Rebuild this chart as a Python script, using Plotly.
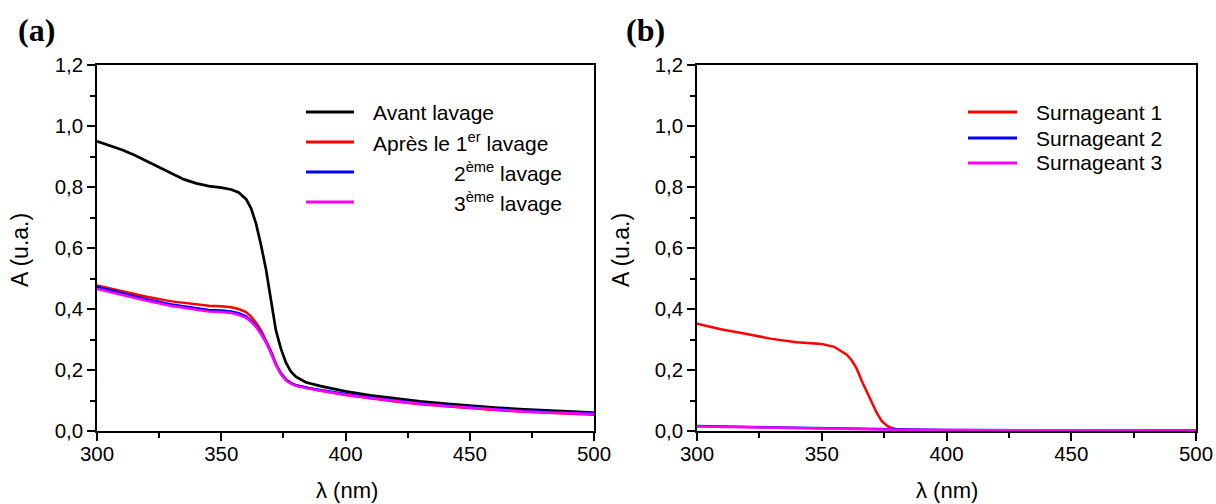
import plotly.graph_objects as go

# ---------------- data ----------------
lam_avant = [300, 305, 310, 315, 320, 325, 330, 335, 340, 345, 350, 354, 357, 360, 362, 364, 366, 368,
             370, 372, 374, 376, 378, 380, 384, 390, 400, 410, 420, 430, 440, 450, 460, 470, 480, 490, 500]
avant = [0.950, 0.937, 0.922, 0.905, 0.885, 0.865, 0.843, 0.825, 0.812, 0.803, 0.798, 0.792, 0.782, 0.760,
         0.730, 0.680, 0.610, 0.530, 0.430, 0.330, 0.270, 0.225, 0.195, 0.178, 0.160, 0.147, 0.130, 0.117,
         0.107, 0.097, 0.090, 0.083, 0.077, 0.072, 0.068, 0.064, 0.060]

lam_lav = [300, 310, 320, 330, 340, 345, 350, 354, 357, 360, 362, 364, 366, 368, 370, 372, 374, 376,
           378, 380, 385, 390, 400, 410, 420, 430, 440, 450, 460, 470, 480, 490, 500]
lavage1 = [0.477, 0.458, 0.440, 0.425, 0.415, 0.411, 0.409, 0.406, 0.400, 0.390, 0.375, 0.355, 0.330,
           0.298, 0.262, 0.220, 0.190, 0.170, 0.158, 0.150, 0.140, 0.132, 0.118, 0.107, 0.097, 0.088,
           0.081, 0.075, 0.069, 0.064, 0.060, 0.056, 0.053]
lavage2 = [0.473, 0.452, 0.432, 0.415, 0.402, 0.397, 0.395, 0.392, 0.386, 0.376, 0.362, 0.345, 0.322,
           0.293, 0.258, 0.218, 0.188, 0.168, 0.157, 0.150, 0.141, 0.134, 0.121, 0.110, 0.100, 0.091,
           0.084, 0.078, 0.072, 0.067, 0.063, 0.060, 0.058]
lavage3 = [0.466, 0.446, 0.427, 0.410, 0.397, 0.392, 0.390, 0.387, 0.381, 0.371, 0.358, 0.341, 0.318,
           0.290, 0.255, 0.216, 0.186, 0.166, 0.155, 0.148, 0.139, 0.132, 0.119, 0.108, 0.098, 0.089,
           0.082, 0.076, 0.070, 0.065, 0.061, 0.058, 0.056]

lam_s1 = [300, 310, 320, 330, 340, 350, 355, 358, 360, 362, 364, 366, 368, 370, 372, 374, 376, 378,
          380, 385, 400, 450, 500]
surn1 = [0.352, 0.333, 0.318, 0.302, 0.291, 0.285, 0.276, 0.262, 0.250, 0.232, 0.205, 0.165, 0.128,
         0.092, 0.060, 0.033, 0.018, 0.010, 0.006, 0.003, 0.002, 0.002, 0.002]

lam_s23 = [300, 320, 340, 360, 370, 380, 400, 450, 500]
surn2 = [0.016, 0.013, 0.011, 0.009, 0.007, 0.004, 0.003, 0.002, 0.002]
surn3 = [0.015, 0.012, 0.010, 0.008, 0.006, 0.004, 0.003, 0.002, 0.002]

names_a = ["Avant lavage", "Après le 1<sup>er</sup> lavage", "2<sup>ème</sup> lavage", "3<sup>ème</sup> lavage"]
names_b = ["Surnageant 1", "Surnageant 2", "Surnageant 3"]

y_ticks = [0.0, 0.2, 0.4, 0.6, 0.8, 1.0, 1.2]
y_ticktext = ["0,0", "0,2", "0,4", "0,6", "0,8", "1,0", "1,2"]
x_ticks = [300, 350, 400, 450, 500]

# ---------------- figure ----------------
W, H = 1216, 504
OFF = 0  # body margin removed by post_script
def px(x):
    return (x - OFF) / W
def py(y):
    return 1 - (y - OFF) / H

RED, BLUE, MAG = "#ff0000", "#0000ff", "#ff00ff"
fig = go.Figure()
fig.add_trace(go.Scatter(x=lam_avant, y=avant, mode="lines", line=dict(color="black", width=2.7), xaxis="x", yaxis="y"))
fig.add_trace(go.Scatter(x=lam_lav, y=lavage1, mode="lines", line=dict(color=RED, width=2.5), xaxis="x", yaxis="y"))
fig.add_trace(go.Scatter(x=lam_lav, y=lavage2, mode="lines", line=dict(color=BLUE, width=2.5), xaxis="x", yaxis="y"))
fig.add_trace(go.Scatter(x=lam_lav, y=lavage3, mode="lines", line=dict(color=MAG, width=2.5), xaxis="x", yaxis="y"))
fig.add_trace(go.Scatter(x=lam_s1, y=surn1, mode="lines", line=dict(color=RED, width=2.5), xaxis="x2", yaxis="y2"))
fig.add_trace(go.Scatter(x=lam_s23, y=surn2, mode="lines", line=dict(color=BLUE, width=2.5), xaxis="x2", yaxis="y2"))
fig.add_trace(go.Scatter(x=lam_s23, y=surn3, mode="lines", line=dict(color=MAG, width=2.5), xaxis="x2", yaxis="y2"))

FONT = "Liberation Sans, Arial, sans-serif"
tickfont = dict(family=FONT, size=20.5, color="black")

def xaxis(dom, anchor):
    return dict(domain=dom, anchor=anchor, range=[300, 500], tickvals=x_ticks, ticks="outside",
                ticklen=8, tickwidth=1.5, tickcolor="black", showline=True, linecolor="black",
                linewidth=1.5, mirror=True, showgrid=False, zeroline=False, tickfont=tickfont,
                automargin=False, ticklabelstandoff=-4,
                minor=dict(dtick=25, tick0=300, ticks="outside", ticklen=5, tickwidth=1.5, tickcolor="black"))

def yaxis(dom, anchor):
    return dict(domain=dom, anchor=anchor, range=[0, 1.2], tickvals=y_ticks, ticktext=y_ticktext,
                ticks="outside", ticklen=8, tickwidth=1.5, tickcolor="black", showline=True,
                linecolor="black", linewidth=1.5, mirror=True, showgrid=False, zeroline=False,
                tickfont=tickfont, automargin=False,
                minor=dict(dtick=0.1, tick0=0, ticks="outside", ticklen=5, tickwidth=1.5, tickcolor="black"))

ydom = [py(431), py(65)]
fig.update_layout(
    width=W, height=H, margin=dict(l=0, r=0, t=0, b=0, autoexpand=False),
    paper_bgcolor="white", plot_bgcolor="white", showlegend=False,
    xaxis=xaxis([px(97), px(594)], "y"),
    yaxis=yaxis(ydom, "x"),
    xaxis2=xaxis([px(697), px(1196)], "y2"),
    yaxis2=yaxis(ydom, "x2"),
)

ann = []
shapes = []
# axis titles
for cx in (347, 947):
    ann.append(dict(x=px(cx), y=py(490), xref="paper", yref="paper", text="λ (nm)", showarrow=False,
                    font=dict(family=FONT, size=22, color="black"), xanchor="center", yanchor="middle"))
for cx in (20, 621):
    ann.append(dict(x=px(cx), y=py(250), xref="paper", yref="paper", text="A (u.a.)", showarrow=False,
                    textangle=-90, font=dict(family=FONT, size=23, color="black"),
                    xanchor="center", yanchor="middle"))
# panel labels
for cx, t in ((36, "(a)"), (645, "(b)")):
    ann.append(dict(x=px(cx), y=py(30), xref="paper", yref="paper", text="<b>%s</b>" % t, showarrow=False,
                    font=dict(family="Liberation Serif, Times New Roman, serif", size=32, color="black"),
                    xanchor="center", yanchor="middle"))

# legend (a)
cols_a = ["black", RED, BLUE, MAG]
rows_a = [112, 142, 172, 202]
txtx_a = [371, 371, 452, 452]
for name, c, ry, tx in zip(names_a, cols_a, rows_a, txtx_a):
    shapes.append(dict(type="line", xref="paper", yref="paper", x0=px(306), x1=px(354), y0=py(ry), y1=py(ry),
                       line=dict(color=c, width=3)))
    ann.append(dict(x=px(tx), y=py(ry), xref="paper", yref="paper", text=name, showarrow=False,
                    font=dict(family=FONT, size=21, color="black"), xanchor="left", yanchor="middle"))
# legend (b)
cols_b = [RED, BLUE, MAG]
rows_b = [112, 138, 163]
for name, c, ry in zip(names_b, cols_b, rows_b):
    shapes.append(dict(type="line", xref="paper", yref="paper", x0=px(968), x1=px(1017), y0=py(ry), y1=py(ry),
                       line=dict(color=c, width=3)))
    ann.append(dict(x=px(1034), y=py(ry), xref="paper", yref="paper", text=name, showarrow=False,
                    font=dict(family=FONT, size=21, color="black"), xanchor="left", yanchor="middle"))

fig.update_layout(annotations=ann, shapes=shapes)
fig.write_html(
    "out.html",
    config={"displayModeBar": False},
    post_script="document.body.style.margin='0';document.body.style.overflow='hidden';"
                "document.documentElement.style.overflow='hidden';",
)
